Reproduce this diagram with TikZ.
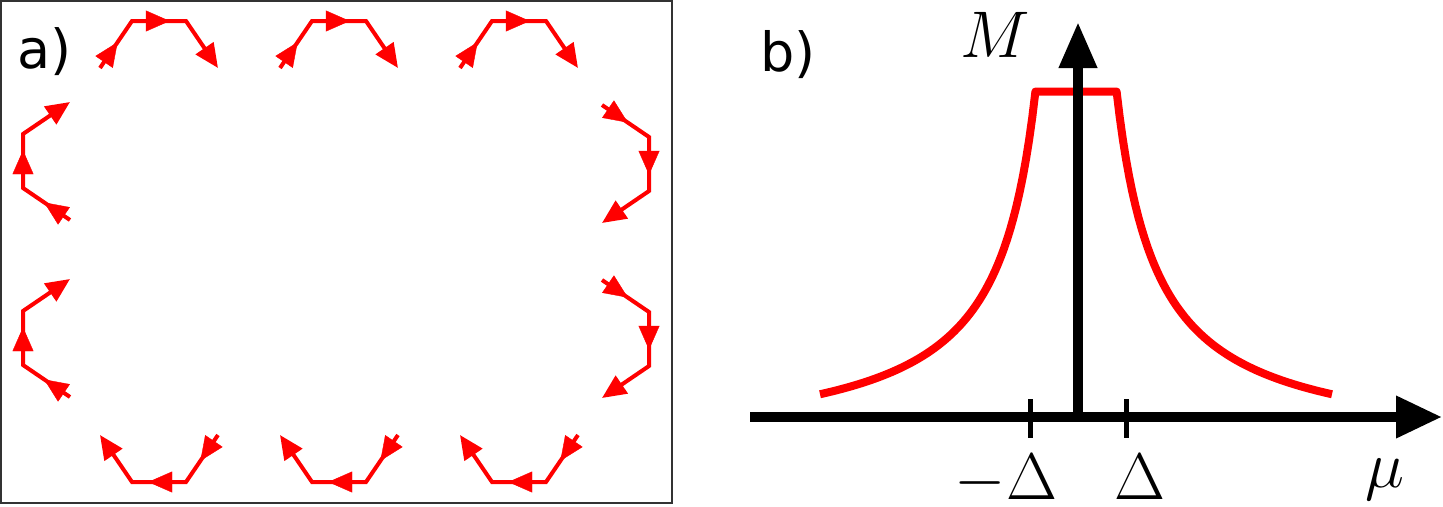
\RequirePackage{fix-cm}
\documentclass[tikz,border=0pt]{standalone}
\usepackage{fontspec}
\newfontfamily\labelfont{DejaVu Sans}
\usetikzlibrary{arrows.meta,decorations.markings}
\tikzset{
  spinhead/.tip={Triangle[length=24pt,width=21pt]},
  chainline/.style={draw=red, line width=4pt, line join=miter},
  spins/.pic={
    \draw[chainline,-spinhead] (0,0) coordinate(-a) -- (32,-47) coordinate(-b)
        -- (86,-47) coordinate(-c) -- (118,0) coordinate(-d);
    \path[decoration={markings,mark=at position 0.55 with {\arrow[red]{spinhead}}},decorate] (-a) -- (-b);
    \path[decoration={markings,mark=at position 0.7 with {\arrow[red]{spinhead}}},decorate] (-b) -- (-c);
  },
  panellabel/.style={anchor=base west, inner sep=0pt, font=\labelfont\fontsize{54}{60}\selectfont},
  mathlabel/.style={anchor=base, inner sep=0pt, font=\fontsize{66}{70}\selectfont},
  axis/.style={line width=10pt},
  tick/.style={line width=5pt},
  curve/.style={red, line width=8pt, line join=round},
}
\begin{document}
\begin{tikzpicture}[x=1pt,y=-1pt]
\useasboundingbox (0,0) rectangle (1443,506);
% panel a
\draw[line width=1.5pt, black!80] (1,1) rectangle (672,503);
\node[panellabel] (la) at (17,68) {a)};
\pic (t1) at (100,68) {spins};
\pic (t2) at (280,68) {spins};
\pic (t3) at (460,68) {spins};
\pic[rotate=180] (b1) at (218,435) {spins};
\pic[rotate=180] (b2) at (398,435) {spins};
\pic[rotate=180] (b3) at (578,435) {spins};
\pic[rotate=90] (l1) at (70,220) {spins};
\pic[rotate=90] (l2) at (70,397) {spins};
\pic[rotate=-90] (r1) at (602,105) {spins};
\pic[rotate=-90] (r2) at (602,280) {spins};
% panel b
\node[panellabel] (lb) at (760,71) {b)};
\coordinate (o) at (1078,417);
\coordinate (xs) at (750,417);
\coordinate (xe) at (1442,417);
\coordinate (ye) at (1078,22);
\draw[curve] plot[domain=256:40.6,samples=70] ({1076-\x},{451.3-14605/\x})
   -- plot[domain=40.6:256,samples=70] ({1076+\x},{451.3-14605/\x});
\draw[axis,-{Triangle[length=46pt,width=40pt]}] (xs) -- (xe);
\draw[axis,-{Triangle[length=46pt,width=36pt]}] (o) -- (ye);
\coordinate (t1a) at (1030,399); \coordinate (t1b) at (1030,438);
\coordinate (t2a) at (1126,399); \coordinate (t2b) at (1126,438);
\draw[tick] (t1a) -- (t1b);
\draw[tick] (t2a) -- (t2b);
\node[mathlabel] (M) at (995,57) {$M$};
\node[mathlabel, text depth=0pt] (md) at (1006,499) {$-\Delta$};
\node[mathlabel, text depth=0pt] (pd) at (1140,499) {$\Delta$};
\node[mathlabel] (mu) at (1385,487) {$\mu$};
\end{tikzpicture}
\end{document}
